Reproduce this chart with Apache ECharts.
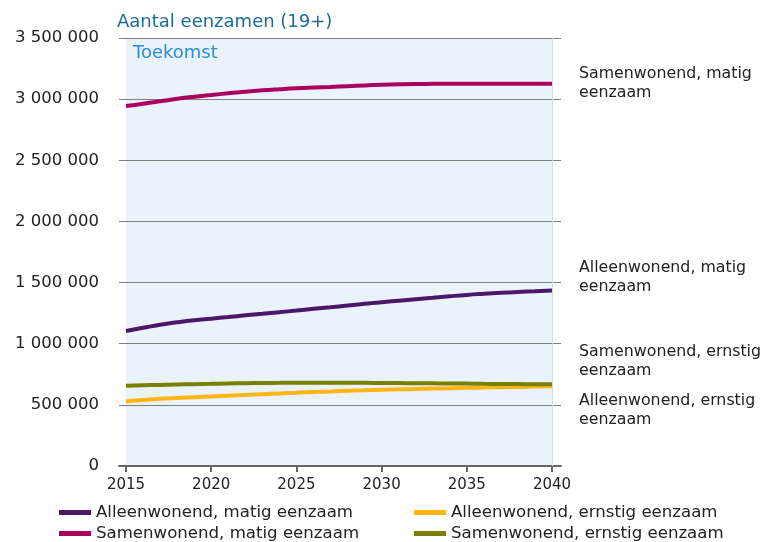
<!DOCTYPE html>
<html>
<head>
<meta charset="utf-8">
<script src="https://cdn.jsdelivr.net/npm/echarts@6/dist/echarts.min.js"></script>
<style>
  html, body { margin: 0; padding: 0; background: #fff; }
  #chart { width: 762px; height: 542px; }
</style>
</head>
<body>
<div id="chart"></div>
<script>
  // jaren 2015 t/m 2040
  var years = [2015, 2016, 2017, 2018, 2019, 2020, 2021, 2022, 2023, 2024, 2025, 2026, 2027,
    2028, 2029, 2030, 2031, 2032, 2033, 2034, 2035, 2036, 2037, 2038, 2039, 2040];
  var yearTicks = [2015, 2020, 2025, 2030, 2035, 2040];

  var seriesNames = [
    'Alleenwonend, matig eenzaam',
    'Samenwonend, matig eenzaam',
    'Alleenwonend, ernstig eenzaam',
    'Samenwonend, ernstig eenzaam'
  ];

  var alleenMatig = [1104000, 1130000, 1155000, 1175000, 1192000, 1205000, 1218000, 1232000, 1245000,
    1258000, 1271000, 1285000, 1298000, 1312000, 1326000, 1340000, 1352000, 1364000, 1376000,
    1388000, 1399000, 1408000, 1416000, 1423000, 1429000, 1435000];
  var samenMatig = [2944000, 2962000, 2982000, 3003000, 3020000, 3034000, 3048000, 3061000, 3072000,
    3081000, 3089000, 3095000, 3100000, 3106000, 3112000, 3117000, 3121000, 3124000, 3125000,
    3126000, 3126000, 3126000, 3126000, 3126000, 3126000, 3126000];
  var alleenErnstig = [530000, 540000, 550000, 557000, 563000, 569000, 575000, 581000, 587000,
    593000, 599000, 605000, 610000, 615000, 619000, 623000, 627000, 630000, 633000, 636000,
    639000, 642000, 645000, 647000, 650000, 652000];
  var samenErnstig = [657000, 660000, 663000, 666000, 669000, 672000, 675000, 677000, 679000,
    680000, 681000, 681000, 681000, 680000, 680000, 679000, 678000, 677000, 676000, 675000,
    674000, 672000, 671000, 670000, 669000, 668000];

  var colors = ['#4b1766', '#ab0060', '#ffb614', '#7b7f00'];

  function pairs(vals) {
    return years.map(function (y, i) { return [y, vals[i]]; });
  }

  function fmt(v) {
    return String(v).replace(/\B(?=(\d{3})+(?!\d))/g, ' ');
  }

  var font = 'DejaVu Sans, Verdana, sans-serif';
  var myChart = echarts.init(document.getElementById('chart'));

  var allData = [alleenMatig, samenMatig, alleenErnstig, samenErnstig];
  var series = allData.map(function (vals, i) {
    return {
      name: seriesNames[i],
      type: 'line',
      data: pairs(vals),
      smooth: true,
      symbol: 'none',
      lineStyle: { width: 4, color: colors[i] },
      itemStyle: { color: colors[i] },
      z: 5 + i
    };
  });
  // achtergrondvlak "Toekomst"
  series.unshift({
    name: 'toekomst',
    type: 'line',
    data: [],
    silent: true,
    markArea: {
      silent: true,
      itemStyle: { color: '#eaf3fb' },
      label: { show: false },
      data: [[{ xAxis: 2015 }, { xAxis: 2040 }]]
    },
    markLine: {
      silent: true,
      symbol: 'none',
      label: { show: false },
      lineStyle: { color: '#d3dbe3', width: 1, type: 'solid' },
      data: [{ xAxis: 2040 }]
    },
    z: 1
  });

  var legendStyle = {
    orient: 'vertical',
    icon: 'rect',
    padding: 0,
    itemWidth: 32,
    itemHeight: 5,
    itemGap: 4,
    textStyle: { fontSize: 16.6, fontFamily: font, color: '#222', lineHeight: 17 }
  };

  var labelStyle = { fontSize: 15.8, lineHeight: 19, fontFamily: font, fill: '#222' };

  myChart.setOption({
    animation: false,
    color: colors,
    title: {
      text: 'Aantal eenzamen (19+)',
      left: 112,
      top: 8,
      textStyle: { fontSize: 18, fontWeight: 'normal', color: '#1b6a9b', fontFamily: font }
    },
    legend: [
      Object.assign({ left: 59, top: 504, data: [seriesNames[0], seriesNames[1]] }, legendStyle),
      Object.assign({ left: 414, top: 504, data: [seriesNames[2], seriesNames[3]] }, legendStyle)
    ],
    grid: { left: 119, right: 201, top: 38, bottom: 76, containLabel: false },
    xAxis: {
      type: 'value',
      min: 2015 - 7 / 17.04,
      max: 2040 + 9 / 17.04,
      z: 4,
      splitLine: { show: false },
      axisLine: { show: true, lineStyle: { color: '#666', width: 2 } },
      axisTick: { show: true, customValues: yearTicks, length: 6, lineStyle: { color: '#666', width: 2 } },
      axisLabel: {
        customValues: yearTicks,
        color: '#222',
        fontSize: 15,
        fontFamily: font,
        margin: 12,
        formatter: function (v) { return String(v); }
      }
    },
    yAxis: {
      type: 'value',
      min: 0,
      max: 3500000,
      interval: 500000,
      z: 3,
      axisLine: { show: false },
      axisTick: { show: false },
      splitLine: { lineStyle: { color: '#808080', width: 1 } },
      axisLabel: {
        color: '#222',
        fontSize: 16.5,
        fontFamily: font,
        margin: 20,
        formatter: fmt
      }
    },
    graphic: [
      { type: 'text', left: 133, top: 44, z: 10, style: { text: 'Toekomst', fontSize: 18, fontFamily: font, fill: '#2a8fd4' } },
      { type: 'text', left: 579, top: 64, style: Object.assign({ text: 'Samenwonend, matig\neenzaam' }, labelStyle) },
      { type: 'text', left: 579, top: 258, style: Object.assign({ text: 'Alleenwonend, matig\neenzaam' }, labelStyle) },
      { type: 'text', left: 579, top: 342, style: Object.assign({ text: 'Samenwonend, ernstig\neenzaam' }, labelStyle) },
      { type: 'text', left: 579, top: 391, style: Object.assign({ text: 'Alleenwonend, ernstig\neenzaam' }, labelStyle) }
    ],
    series: series
  });
  window.onresize = myChart.resize;
</script>
</body>
</html>
